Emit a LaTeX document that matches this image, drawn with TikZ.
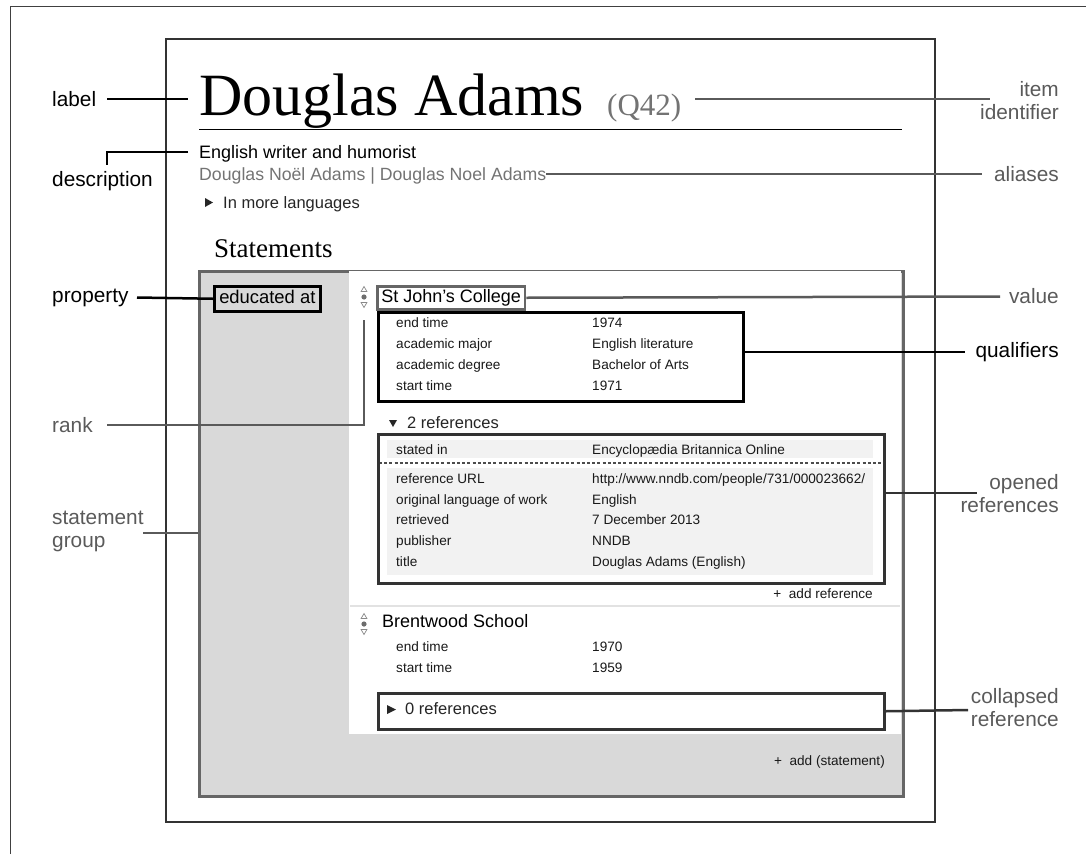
\documentclass[tikz,border=0pt]{standalone}
\usepackage{fontspec}
\setmainfont{Liberation Sans}
\newfontfamily\headserif{Liberation Serif}
\newcommand\fsz[1]{\fontsize{#1}{#1}\selectfont}
\definecolor{annogray}{HTML}{5A5A5A}
\definecolor{boxgray}{HTML}{666666}
\definecolor{panelgray}{HTML}{D9D9D9}
\definecolor{rowgray}{HTML}{F2F2F2}
\definecolor{refdark}{HTML}{333333}
\definecolor{sepgray}{HTML}{E2E2E2}
\definecolor{rankgray}{HTML}{888888}

\begin{document}
\begin{tikzpicture}[x=1pt,y=-1pt,
        anno/.style={inner sep=0,font=\fontsize{20.8}{22.5}\selectfont},
        blacklink/.style={line width=2.5pt,black},
        greylink/.style={line width=2.5pt,annogray},
        row/.style={inner sep=0,anchor=base west,font=\fsz{13.6},text=black!90},
        rankmark/.pic={
            \draw[rankgray,line width=0.7pt] (0,0.5) -- (2.9,5.5) -- (-2.9,5.5) -- cycle;
            \fill[rankgray!80!black] (0,11) circle (2.6);
            \draw[rankgray,line width=0.7pt] (-2.9,16.5) -- (2.9,16.5) -- (0,21.5) -- cycle;
        }]
        \useasboundingbox (0,0) rectangle (1086,854);

        % Frames
        \draw[line width=1pt,black!75] (10,854) -- (10,6) -- (1086,6);
        \draw[line width=1.5pt,black!80] (166,39) rectangle (935,822);

        % Header of the item
        \node[inner sep=0,anchor=base west,font=\headserif\fsz{60}] (title) at (199,115) {Douglas Adams};
        \node[inner sep=0,anchor=base west,font=\headserif\fsz{31},text=black!55] (qid) at (607,115) {(Q42)};
        \draw[line width=1pt] (199,129) -- (902,129);
        \node[inner sep=0,anchor=base west,font=\fsz{18}] (desc) at (199,158) {English writer and humorist};
        \node[inner sep=0,anchor=base west,font=\fsz{17.7},text=black!55] (alias) at (199,180) {Douglas Noël Adams | Douglas Noel Adams};
        \fill[black!85] (205,198) -- (213,202.5) -- (205,207) -- cycle;
        \node[inner sep=0,anchor=base west,font=\fsz{16.5},text=black!85] (morelang) at (223,208) {In more languages};
        \node[inner sep=0,anchor=base west,font=\headserif\fsz{27}] (stmts) at (214,257) {Statements};

        % Statement group
        \node[draw=boxgray,line width=2.5pt,fill=panelgray,inner sep=0,minimum width=704,minimum height=525,anchor=north west] (group) at (198,270) {};
        \fill[white] (349,271.3) rectangle (900.7,734);
        \node[draw,line width=2.5pt,fill=panelgray,inner xsep=5,inner ysep=0,minimum height=25,text height=13.2,text depth=3.8,font=\fsz{18.4},anchor=north west] (prop) at (213,285) {educated at};

        % First statement
        \pic at (364,286) {rankmark};
        \node[draw=boxgray,line width=2.5pt,fill=white,inner xsep=4,inner ysep=0,minimum height=23,text height=13,text depth=3.8,font=\fsz{18},anchor=north west] (value) at (376,285) {St John's College};
        \node[draw,line width=2.5pt,inner sep=0,minimum width=365,minimum height=89,anchor=north west] (quals) at (377,311) {};
        \node[row] (qk1) at (396,327) {end time};
        \node[row] (qv1) at (592,327) {1974};
        \node[row] (qk2) at (396,348) {academic major};
        \node[row] (qv2) at (592,348) {English literature};
        \node[row] (qk3) at (396,369) {academic degree};
        \node[row] (qv3) at (592,369) {Bachelor of Arts};
        \node[row] (qk4) at (396,390) {start time};
        \node[row] (qv4) at (592,390) {1971};

        % Opened references
        \fill[black!85] (389,420) -- (397,420) -- (393,427) -- cycle;
        \node[inner sep=0,anchor=base west,font=\fsz{16.5},text=black!85] (refhead) at (407,428) {2 references};
        \fill[rowgray] (387,440) rectangle (873,458);
        \fill[rowgray] (387,468) rectangle (873,575);
        \draw[black!70,line width=1.2pt,dash pattern=on 3pt off 2.2pt] (379,463) -- (881,463);
        \node[draw=refdark,line width=2.5pt,inner sep=0,minimum width=506,minimum height=149,anchor=north west] (openrefs) at (377,433) {};
        \node[row] (rk1) at (396,454) {stated in};
        \node[row] (rv1) at (592,454) {Encyclopædia Britannica Online};
        \node[row] (rk2) at (396,483) {reference URL};
        \node[row] (rv2) at (592,483) {http://www.nndb.com/people/731/000023662/};
        \node[row] (rk3) at (396,504) {original language of work};
        \node[row] (rv3) at (592,504) {English};
        \node[row] (rk4) at (396,524) {retrieved};
        \node[row] (rv4) at (592,524) {7 December 2013};
        \node[row] (rk5) at (396,545) {publisher};
        \node[row] (rv5) at (592,545) {NNDB};
        \node[row] (rk6) at (396,566) {title};
        \node[row] (rv6) at (592,566) {Douglas Adams (English)};
        \node[row,anchor=base east] (addref) at (873,598) {+\ \ add reference};
        \draw[sepgray,line width=1.5pt] (350,606) -- (900,606);

        % Second statement
        \pic at (364,613) {rankmark};
        \node[inner sep=0,anchor=base west,font=\fsz{18}] (value2) at (382,627) {Brentwood School};
        \node[row] (sk1) at (396,651) {end time};
        \node[row] (sv1) at (592,651) {1970};
        \node[row] (sk2) at (396,672) {start time};
        \node[row] (sv2) at (592,672) {1959};
        \node[draw=refdark,line width=2.5pt,fill=white,inner sep=0,minimum width=506,minimum height=36,anchor=north west] (closedrefs) at (377,692) {};
        \fill[black!85] (387,705) -- (396,709.5) -- (387,714) -- cycle;
        \node[inner sep=0,anchor=base west,font=\fsz{16.5},text=black!85] (refhead2) at (405,714) {0 references};
        \node[row,anchor=base east] (addstmt) at (885,765) {+\ \ add (statement)};

        % Annotations, left
        \node[anno,anchor=base west] (lbl) at (52,106) {label};
        \node[anno,anchor=base west] (desclbl) at (52,186) {description};
        \node[anno,anchor=base west] (proplbl) at (52,302) {property};
        \node[anno,anchor=base west,text=annogray] (ranklbl) at (52,432) {rank};
        \node[anno,anchor=base west,text=annogray,align=left] (grouplbl) at (52,547) {statement\\group};

        % Annotations, right
        \node[anno,anchor=base east,text=annogray,align=right] (qidlbl) at (1059,119) {item\\identifier};
        \node[anno,anchor=base east,text=annogray] (aliaslbl) at (1059,181) {aliases};
        \node[anno,anchor=base east,text=annogray] (valuelbl) at (1059,303) {value};
        \node[anno,anchor=base east] (qualslbl) at (1059,357) {qualifiers};
        \node[anno,anchor=base east,text=annogray,align=right] (openlbl) at (1059,512) {opened\\references};
        \node[anno,anchor=base east,text=annogray,align=right] (closedlbl) at (1059,726) {collapsed\\reference};

        % Connectors
        \coordinate (lblA) at (107,99);
        \coordinate (lblB) at (188,99);
        \draw[blacklink] (lblA) -- (lblB);
        \coordinate (descA) at (188,152);
        \coordinate (descB) at (107,165);
        \draw[blacklink] (descA) -| (descB);
        \coordinate (qidA) at (695,99);
        \coordinate (qidB) at (990,99);
        \draw[greylink] (qidA) -- (qidB);
        \coordinate (aliasA) at (982,174);
        \draw[greylink] (alias.east |- aliasA) -- (aliasA);
        \coordinate (propA) at (137,297.5);
        \draw[blacklink] (propA) -- (prop.west);
        \coordinate (valueA) at (1000,296.5);
        \draw[greylink] (value.east) -- (valueA);
        \coordinate (qualsA) at (965,352);
        \draw[blacklink] (quals.east |- qualsA) -- (qualsA);
        \coordinate (rankA) at (364,320);
        \coordinate (rankB) at (107,425);
        \draw[greylink] (rankA) |- (rankB);
        \coordinate (groupA) at (143,533);
        \draw[greylink] (groupA) -- (group.west |- groupA);
        \coordinate (openA) at (977,493);
        \draw[line width=2.5pt,refdark] (openrefs.east |- openA) -- (openA);
        \coordinate (closedA) at (968,710);
        \draw[line width=2.5pt,refdark] (closedrefs.east) -- (closedA);

\end{tikzpicture}
\end{document}
